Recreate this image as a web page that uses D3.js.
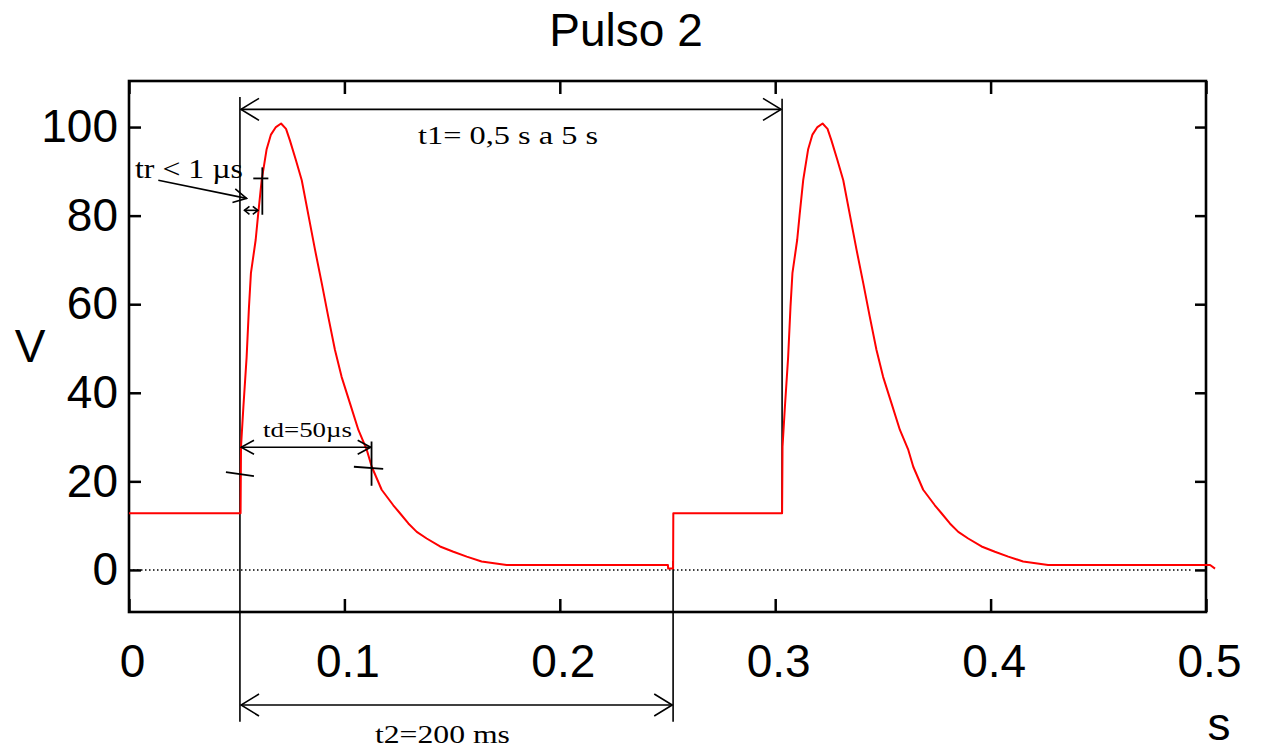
<!DOCTYPE html>
<html lang="es">
<head>
  <meta charset="UTF-8">
  <title>Pulso 2</title>
  <script src="https://d3js.org/d3.v7.min.js"></script>
  <style>
    body { margin: 0; background: #fff; }
    svg text { font-family: "Liberation Sans", Arial, sans-serif; }
  </style>
</head>
<body>
<svg id="chart" width="1269" height="750"></svg>
<script>
  // trace (time in s, voltage in V)
  const waveT = [
    0, 0.0518, 0.0520, 0.0531, 0.0546, 0.0557, 0.0566, 0.0588, 0.0599, 0.0616, 0.0639, 0.0659,
    0.0682, 0.0706, 0.0729, 0.0747, 0.0775, 0.0802, 0.0840, 0.0864, 0.0895, 0.0925, 0.0956,
    0.0987, 0.1026, 0.1065, 0.1104, 0.1127, 0.1173, 0.1227, 0.1258, 0.1297, 0.1336, 0.1382,
    0.1444, 0.1506, 0.1568, 0.1637, 0.1753,
    0.2502, 0.2503, 0.2526, 0.2527, 0.3032,
    0.3034, 0.3045, 0.3060, 0.3071, 0.3080, 0.3102, 0.3113, 0.3130, 0.3153, 0.3173,
    0.3196, 0.3220, 0.3243, 0.3261, 0.3289, 0.3316, 0.3354, 0.3378, 0.3409, 0.3439, 0.3470,
    0.3501, 0.3540, 0.3579, 0.3618, 0.3641, 0.3687, 0.3741, 0.3772, 0.3811, 0.3850, 0.3896,
    0.3958, 0.4020, 0.4082, 0.4151, 0.4267,
    0.5019, 0.5042
  ];
  const waveV = [
    12.8, 12.8, 27.8, 36.8, 48, 59.4, 67, 74.5, 80, 88, 95, 98.3,
    100, 100.8, 99.6, 97, 92.5, 88, 78.3, 72.2, 64.7, 57.2, 49.7,
    43.6, 37.6, 31.6, 27.1, 23.3, 18.1, 14.6, 12.8, 10.5, 8.6, 7.1,
    5.3, 4.1, 3.0, 1.9, 1.1,
    1.1, 0.3, 0.3, 12.8, 12.8,
    27.8, 36.8, 48, 59.4, 67, 74.5, 80, 88, 95, 98.3,
    100, 100.8, 99.6, 97, 92.5, 88, 78.3, 72.2, 64.7, 57.2, 49.7,
    43.6, 37.6, 31.6, 27.1, 23.3, 18.1, 14.6, 12.8, 10.5, 8.6, 7.1,
    5.3, 4.1, 3.0, 1.9, 1.1,
    1.1, 0.3
  ];

  const xTicks = [0, 0.1, 0.2, 0.3, 0.4, 0.5];
  const yTicks = [0, 20, 40, 60, 80, 100];

  // annotation marks (time, voltage)
  const guideLines = [
    { t: 0.0515, v1: 106.8, v2: -34.3 },
    { t: 0.2526, v1: 2.0, v2: -34.3 },
    { t: 0.3032, v1: 106.4, v2: 12.8 }
  ];
  const arrows = [
    { t1: 0.0520, t2: 0.3027, v1: 104, v2: 104, both: true, size: "big" },
    { t1: 0.0520, t2: 0.2522, v1: -30.5, v2: -30.5, both: true, size: "big" },
    { t1: 0.0520, t2: 0.1122, v1: 27.7, v2: 27.7, both: true, size: "small" },
    { t1: 0.0136, t2: 0.0546, v1: 88.0, v2: 83.9, both: false, size: "small" },
    { t1: 0.0536, t2: 0.0598, v1: 81.2, v2: 81.2, both: true, size: "tiny" }
  ];
  const crossSegs = [
    [0.0450, 22.1, 0.0580, 21.2],
    [0.1044, 23.3, 0.1180, 22.8],
    [0.1126, 29.0, 0.1126, 19.0],
    [0.0577, 88.4, 0.0647, 88.4],
    [0.0619, 90.9, 0.0619, 80.2]
  ];
  const labels = [
    { text: "t1= 0,5 s a 5 s", t: 0.1760, v: 96.2, len: 180, size: 26, anchor: "middle" },
    { text: "t2=200 ms", t: 0.1455, v: -39.1, len: 135, size: 25, anchor: "middle" },
    { text: "td=50\u00b5s", t: 0.0829, v: 30.0, len: 89, size: 22, anchor: "middle" },
    { text: "tr < 1 \u00b5s", t: 0.0028, v: 88.5, len: 108, size: 28, anchor: "start" }
  ];

  const svg = d3.select("#chart");
  const plotLeft = 129, plotRight = 1206, plotTop = 81, plotBottom = 612;

  const x = d3.scaleLinear().domain([0, 0.5]).range([plotLeft, plotRight]);
  const y = d3.scaleLinear().domain([-9.5, 110.4]).range([plotBottom, plotTop]);

  // arrow heads
  const defs = svg.append("defs");
  const heads = { big: [18, 11], small: [13, 7], tiny: [5, 4] };
  Object.entries(heads).forEach(([name, [len, half]]) => {
    defs.append("marker")
      .attr("id", "head-" + name)
      .attr("markerUnits", "userSpaceOnUse")
      .attr("viewBox", `-1 ${-half - 1} ${len + 2} ${2 * half + 2}`)
      .attr("markerWidth", len + 2)
      .attr("markerHeight", 2 * half + 2)
      .attr("refX", len)
      .attr("refY", 0)
      .attr("orient", "auto-start-reverse")
      .append("path")
      .attr("d", `M0,${-half}L${len},0L0,${half}`)
      .attr("fill", "none")
      .attr("stroke", "#000")
      .attr("stroke-width", 1.6);
  });

  // title
  svg.append("text")
    .attr("x", 626)
    .attr("y", 46)
    .attr("text-anchor", "middle")
    .attr("font-size", "46px")
    .text("Pulso 2");

  // zero line
  svg.append("line")
    .attr("x1", x(0)).attr("x2", x(0.493))
    .attr("y1", y(0)).attr("y2", y(0))
    .attr("stroke", "#000")
    .attr("stroke-width", 1.5)
    .attr("stroke-dasharray", "1.5,2.5");

  // axes, ticks inside
  const bottomAxis = svg.append("g")
    .attr("transform", `translate(0,${plotBottom})`)
    .call(d3.axisBottom(x).tickValues(xTicks).tickSize(-13).tickPadding(32).tickFormat(d3.format("")));
  const leftAxis = svg.append("g")
    .attr("transform", `translate(${plotLeft},0)`)
    .call(d3.axisLeft(y).tickValues(yTicks).tickSize(-12).tickPadding(11));
  svg.append("g")
    .attr("transform", `translate(0,${plotTop})`)
    .call(d3.axisTop(x).tickValues(xTicks).tickSize(-13).tickFormat(""));
  svg.append("g")
    .attr("transform", `translate(${plotRight},0)`)
    .call(d3.axisRight(y).tickValues(yTicks).tickSize(-11).tickFormat(""));

  svg.selectAll(".domain").remove();
  svg.selectAll(".tick line").attr("stroke", "#000").attr("stroke-width", 2.5);
  [bottomAxis, leftAxis].forEach(a => a.selectAll("text")
    .attr("font-size", "46px")
    .attr("fill", "#000")
    .attr("font-family", "Liberation Sans, Arial, sans-serif"));
  bottomAxis.selectAll("text").attr("dx", 3);

  // frame
  svg.append("rect")
    .attr("x", plotLeft).attr("y", plotTop)
    .attr("width", plotRight - plotLeft).attr("height", plotBottom - plotTop)
    .attr("fill", "none")
    .attr("stroke", "#000")
    .attr("stroke-width", 2.6);

  // axis names
  svg.append("text").attr("x", 30).attr("y", 362).attr("text-anchor", "middle")
    .attr("font-size", "46px").text("V");
  svg.append("text").attr("x", 1219).attr("y", 740).attr("text-anchor", "middle")
    .attr("font-size", "46px").text("s");

  // guide lines
  svg.selectAll("line.guide")
    .data(guideLines)
    .enter().append("line")
    .attr("class", "guide")
    .attr("x1", d => x(d.t)).attr("x2", d => x(d.t))
    .attr("y1", d => y(d.v1)).attr("y2", d => y(d.v2))
    .attr("stroke", "#000")
    .attr("stroke-width", 1.6);

  // the pulse trace
  const wave = waveT.map((t, i) => [t, waveV[i]]);
  svg.append("path")
    .datum(wave)
    .attr("fill", "none")
    .attr("stroke", "#ff0000")
    .attr("stroke-width", 2)
    .attr("stroke-linejoin", "round")
    .attr("d", d3.line().x(d => x(d[0])).y(d => y(d[1])));

  // dimension arrows
  svg.selectAll("line.arrow")
    .data(arrows)
    .enter().append("line")
    .attr("class", "arrow")
    .attr("x1", d => x(d.t1)).attr("x2", d => x(d.t2))
    .attr("y1", d => y(d.v1)).attr("y2", d => y(d.v2))
    .attr("stroke", "#000")
    .attr("stroke-width", 1.6)
    .attr("marker-end", d => `url(#head-${d.size})`)
    .attr("marker-start", d => d.both ? `url(#head-${d.size})` : null);

  // crosses marking the measuring points
  svg.selectAll("line.cross")
    .data(crossSegs)
    .enter().append("line")
    .attr("class", "cross")
    .attr("x1", d => x(d[0])).attr("y1", d => y(d[1]))
    .attr("x2", d => x(d[2])).attr("y2", d => y(d[3]))
    .attr("stroke", "#000")
    .attr("stroke-width", 1.8);

  // labels
  svg.selectAll("text.note")
    .data(labels)
    .enter().append("text")
    .attr("class", "note")
    .attr("x", d => x(d.t))
    .attr("y", d => y(d.v))
    .attr("text-anchor", d => d.anchor)
    .style("font-family", "'Liberation Serif', 'Times New Roman', serif")
    .attr("font-size", d => d.size + "px")
    .attr("textLength", d => d.len)
    .attr("lengthAdjust", "spacingAndGlyphs")
    .text(d => d.text);
</script>
</body>
</html>
